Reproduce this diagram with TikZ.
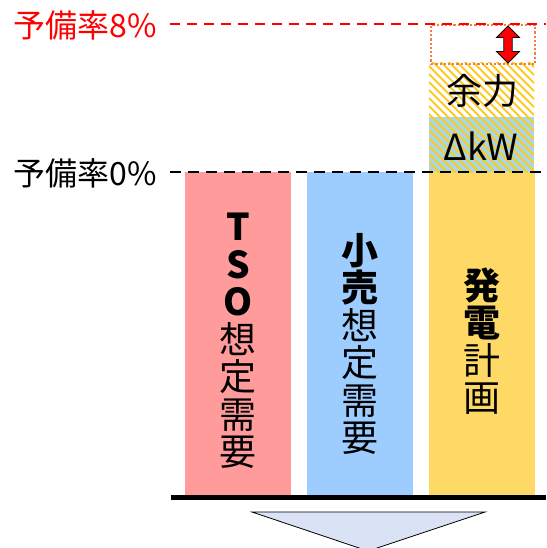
\documentclass[tikz,border=0pt]{standalone}
\usepackage{fontspec}
\setmainfont{Noto Sans CJK JP}
\usetikzlibrary{shapes.arrows}
\definecolor{pinkbar}{HTML}{FF9B9B}
\definecolor{bluebar}{HTML}{9DCCFF}
\definecolor{yelbar}{HTML}{FFD966}
\definecolor{hatchor}{HTML}{FFC000}
\definecolor{dkwbg}{HTML}{A6D8E6}
\definecolor{dotor}{HTML}{F08040}
\definecolor{trifill}{HTML}{DAE3F3}
\begin{document}
\begin{tikzpicture}[x=1pt,y=-1pt,
  bar/.style={draw=none,minimum width=106pt,minimum height=324pt,anchor=north west,inner sep=0pt},
  vtext/.style={align=center,font=\fontsize{37}{37.5}\selectfont,inner sep=0pt},
  lvl/.style={font=\fontsize{32}{34}\selectfont,anchor=east,inner sep=0pt},
  boxtext/.style={font=\fontsize{36}{38}\selectfont,inner sep=0pt}]
\useasboundingbox (0,0) rectangle (546,548);
\clip (0,0) rectangle (546,548);
% bars
\node[bar,fill=pinkbar] (tso) at (185,172) {};
\node[bar,fill=bluebar] (kouri) at (307,172) {};
\node[bar,fill=yelbar] (hatsu) at (429,172) {};
% margin areas
\fill[dkwbg] (429,117) rectangle (534,172);
\begin{scope}
\clip (429,63) rectangle (534,172);
\foreach \i in {-200,-192,...,200}{
  \draw[hatchor!85,line width=2.1pt] (429+\i,50) -- (429+\i+130,180);
}
\end{scope}
\node[draw=dotor,dotted,line width=2.2pt,minimum width=104pt,minimum height=39pt,anchor=north west,inner sep=0pt] (gap) at (430,24) {};
\node[boxtext] (yoryoku) at (482,91) {余力};
\node[boxtext] (dkw) at (481,146) {ΔkW};
% double arrow
\node[double arrow,draw=black,fill=red,line width=0.8pt,minimum height=37pt,minimum width=23pt,double arrow head extend=6pt,inner sep=3pt,rotate=90] (darr) at (508,44.5) {};
% level lines
\coordinate (l8a) at (170,24);
\coordinate (l8b) at (546,24);
\coordinate (l0a) at (170,172);
\coordinate (l0b) at (546,172);
\draw[red,line width=1.6pt,dash pattern=on 10pt off 7pt] (l8a) -- (l8b);
\draw[black,line width=1.8pt,dash pattern=on 11pt off 7pt] (l0a) -- (l0b);
\node[lvl,text=red] (p8) at (157,25) {予備率8\%};
\node[lvl] (p0) at (157,173) {予備率0\%};
% bar texts
\node[vtext] (t1) at (238,341) {\textbf{T}\\\textbf{S}\\\textbf{O}\\想\\定\\需\\要};
\node[vtext] (t2) at (360,344) {\textbf{小}\\\textbf{売}\\想\\定\\需\\要};
\node[vtext] (t3) at (482,341) {\textbf{発}\\\textbf{電}\\計\\画};
% baseline
\coordinate (ba) at (171,497.5);
\coordinate (bb) at (546,497.5);
\draw[line width=4.5pt] (ba) -- (bb);
% triangle
\coordinate (ta) at (252,512);
\coordinate (tb) at (485,512);
\coordinate (tc) at (368,551);
\draw[fill=trifill,line width=0.8pt] (ta) -- (tb) -- (tc) -- cycle;
\end{tikzpicture}
\end{document}
